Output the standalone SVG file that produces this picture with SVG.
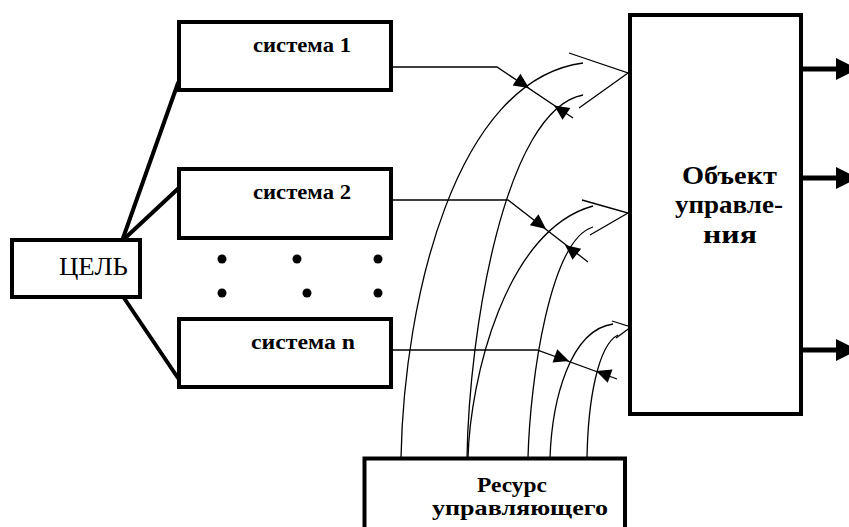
<svg xmlns="http://www.w3.org/2000/svg" xmlns:xlink="http://www.w3.org/1999/xlink" width="849" height="527" viewBox="0 0 849 527">
<style>
.box{fill:#fff;stroke:#000;stroke-width:4}
.thick{fill:none;stroke:#000;stroke-width:4;stroke-linecap:round}
.thin{fill:none;stroke:#000;stroke-width:1.3}
.out{fill:none;stroke:#000;stroke-width:5}
.lbl{font-family:"Liberation Serif","Times New Roman",serif;font-weight:bold;fill:#000}
.reg{font-family:"Liberation Serif","Times New Roman",serif;fill:#000}
</style>
<defs>
<path id="ah" d="M0,0 L-15,-7 L-15,7 Z" fill="#000"/>
<path id="big" d="M0,0 L-22,-11 L-22,11 Z" fill="#000"/>
</defs>
<rect width="849" height="527" fill="#fff"/>
<g id="connectors">
<line class="thick" x1="122" y1="241" x2="178" y2="83"/>
<line class="thick" x1="122" y1="241" x2="182" y2="185"/>
<line class="thick" x1="124" y1="298" x2="178" y2="378"/>
<polyline class="thin" points="391,67 497,67 573,118"/>
<polyline class="thin" points="391,200 508,200 588,262"/>
<polyline class="thin" points="391,350 537,350 617,379"/>
<use xlink:href="#ah" transform="translate(529,88) rotate(33.9)"/>
<use xlink:href="#ah" transform="translate(554,105.5) rotate(213.9)"/>
<use xlink:href="#ah" transform="translate(546,229) rotate(37.8)"/>
<use xlink:href="#ah" transform="translate(565,245) rotate(217.8)"/>
<use xlink:href="#ah" transform="translate(569,361) rotate(19.9)"/>
<use xlink:href="#ah" transform="translate(596,371) rotate(199.9)"/>
<path class="thin" d="M401,458 C404,300 455,80 583,63"/>
<path class="thin" d="M467,458 C469,330 505,110 583,95"/>
<path class="thin" d="M468,458 C470,380 505,230 593,206"/>
<path class="thin" d="M528,458 C530,380 550,240 593,227"/>
<path class="thin" d="M550,458 C552,400 570,330 613,324"/>
<path class="thin" d="M587,458 C588,400 598,345 618,335"/>
<polyline class="thin" points="569,53 628,73 579,108"/>
<polyline class="thin" points="582,200 628,213 590,235"/>
<polyline class="thin" points="612,321 631,327 616,338"/>
<line class="out" x1="801" y1="69" x2="840" y2="69"/>
<line class="out" x1="801" y1="178" x2="840" y2="178"/>
<line class="out" x1="801" y1="350" x2="840" y2="350"/>
<use xlink:href="#big" transform="translate(858,69)"/>
<use xlink:href="#big" transform="translate(858,178)"/>
<use xlink:href="#big" transform="translate(858,350)"/>
</g>
<g id="goal">
<rect class="box" x="12" y="240" width="128" height="57"/>
<text class="reg" x="59" y="275" font-size="26" textLength="69" lengthAdjust="spacingAndGlyphs">ЦЕЛЬ</text>
</g>
<g id="system1">
<rect class="box" x="179" y="22" width="212" height="68"/>
<text class="lbl" x="253" y="52" font-size="21" textLength="98" lengthAdjust="spacingAndGlyphs">система 1</text>
</g>
<g id="system2">
<rect class="box" x="179" y="169" width="212" height="69"/>
<text class="lbl" x="253" y="199" font-size="21" textLength="98" lengthAdjust="spacingAndGlyphs">система 2</text>
</g>
<g id="dots">
<circle cx="222" cy="259" r="4.5"/>
<circle cx="297" cy="259" r="4.5"/>
<circle cx="378" cy="259" r="4.5"/>
<circle cx="222" cy="293" r="4.5"/>
<circle cx="307" cy="293" r="4.5"/>
<circle cx="378" cy="293" r="4.5"/>
</g>
<g id="systemn">
<rect class="box" x="179" y="319" width="212" height="68"/>
<text class="lbl" x="251" y="349" font-size="21" textLength="104" lengthAdjust="spacingAndGlyphs">система n</text>
</g>
<g id="object">
<rect class="box" x="630" y="15" width="171" height="399"/>
<text class="lbl" x="682" y="184" font-size="25" textLength="95" lengthAdjust="spacingAndGlyphs">Объект</text>
<text class="lbl" x="675" y="213" font-size="25" textLength="108" lengthAdjust="spacingAndGlyphs">управле-</text>
<text class="lbl" x="703" y="243" font-size="25" textLength="54" lengthAdjust="spacingAndGlyphs">ния</text>
</g>
<g id="resource">
<rect class="box" x="364.5" y="458.5" width="260.5" height="90"/>
<text class="lbl" x="477" y="492" font-size="22" textLength="70" lengthAdjust="spacingAndGlyphs">Ресурс</text>
<text class="lbl" x="432" y="515" font-size="22" textLength="176" lengthAdjust="spacingAndGlyphs">управляющего</text>
</g>
</svg>
